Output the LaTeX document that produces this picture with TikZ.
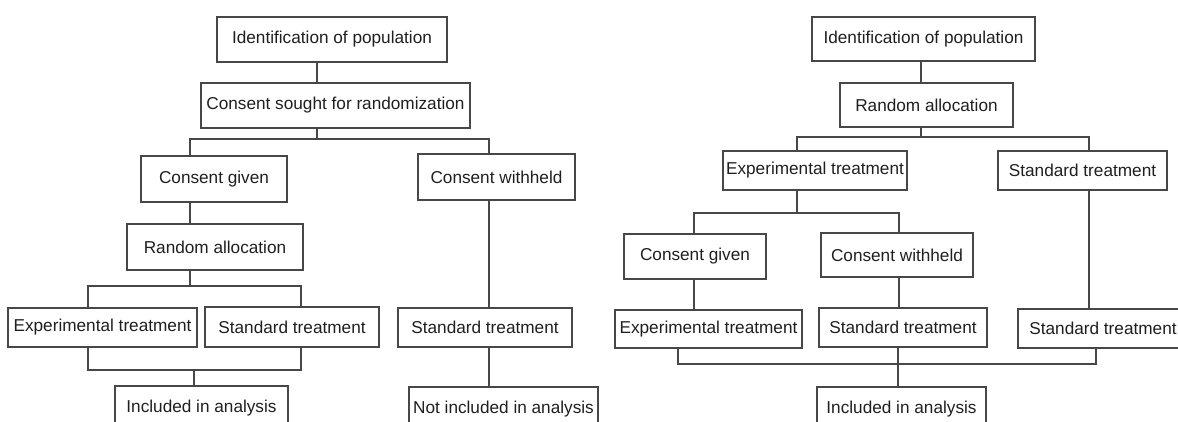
\documentclass[tikz,border=0pt]{standalone}
\usepackage{fontspec}
\setmainfont{Liberation Sans}
\begin{document}
\begin{tikzpicture}[x=1pt,y=-1pt,
  box/.style={draw=black!72, line width=1.1pt, text=black!88, inner sep=0pt,
    font=\fontsize{17.2}{20}\selectfont},
  conn/.style={draw=black!72, line width=1.1pt}]
\useasboundingbox (0,0) rectangle (1178,421);
\clip (0,0) rectangle (1178,421);
% ---------- left diagram ----------
\node[box, minimum width=230pt, minimum height=45pt] (L1) at (332,39.5) {Identification of population};
\node[box, minimum width=269pt, minimum height=45pt] (L2) at (335.5,105.5) {Consent sought for randomization};
\node[box, minimum width=146pt, minimum height=46pt] (L3) at (214,179) {Consent given};
\node[box, minimum width=157pt, minimum height=46pt] (L4) at (496.5,177) {Consent withheld};
\node[box, minimum width=176pt, minimum height=46pt] (L5) at (215,247) {Random allocation};
\node[box, minimum width=189pt, minimum height=39pt] (L6) at (102.5,327.5) {Experimental treatment};
\node[box, minimum width=174pt, minimum height=40pt] (L7) at (292,327) {Standard treatment};
\node[box, minimum width=174pt, minimum height=39pt] (L8) at (485,327.5) {Standard treatment};
\node[box, minimum width=173pt, minimum height=44pt] (L9) at (201.5,408) {Included in analysis};
\node[box, minimum width=189pt, minimum height=44pt] (L10) at (503.5,409) {Not included in analysis};
% ---------- right diagram ----------
\node[box, minimum width=223pt, minimum height=44pt] (R1) at (923.5,39) {Identification of population};
\node[box, minimum width=173pt, minimum height=44pt] (R2) at (926.5,105) {Random allocation};
\node[box, minimum width=184pt, minimum height=39pt] (R3) at (815,170.5) {Experimental treatment};
\node[box, minimum width=169pt, minimum height=39pt] (R4) at (1082.5,170.5) {Standard treatment};
\node[box, minimum width=142pt, minimum height=45pt] (R5) at (695,256.5) {Consent given};
\node[box, minimum width=152pt, minimum height=44pt] (R6) at (897,255) {Consent withheld};
\node[box, minimum width=187pt, minimum height=38pt] (R7) at (708.5,329) {Experimental treatment};
\node[box, minimum width=168pt, minimum height=39pt] (R8) at (903,327.5) {Standard treatment};
\node[box, minimum width=170pt, minimum height=39pt] (R9) at (1103,328.5) {Standard treatment};
\node[box, minimum width=169pt, minimum height=44pt] (R10) at (901.5,409) {Included in analysis};
% ---------- left connectors ----------
\coordinate (la) at (317,0);
\draw[conn] (L1.south -| la) -- (L2.north -| la);
\coordinate (lj1) at (317,139);
\coordinate (lb1a) at (190,139);
\coordinate (lb1b) at (489,139);
\draw[conn] (L2.south -| lj1) -- (lj1);
\draw[conn] (L3.north -| lb1a) -- (lb1a) -- (lb1b) -- (L4.north -| lb1b);
\draw[conn] (L3.south -| lb1a) -- (L5.north -| lb1a);
\coordinate (lj2) at (190,286);
\coordinate (lb2a) at (88,286);
\coordinate (lb2b) at (301,286);
\draw[conn] (L5.south -| lj2) -- (lj2);
\draw[conn] (L6.north -| lb2a) -- (lb2a) -- (lb2b) -- (L7.north -| lb2b);
\coordinate (lb3a) at (88,370);
\coordinate (lb3b) at (301,370);
\coordinate (lj3) at (194,370);
\draw[conn] (L6.south -| lb3a) -- (lb3a) -- (lb3b) -- (L7.south -| lb3b);
\draw[conn] (lj3) -- (L9.north -| lj3);
\draw[conn] (L4.south -| lb1b) -- (L8.north -| lb1b);
\draw[conn] (L8.south -| lb1b) -- (L10.north -| lb1b);
% ---------- right connectors ----------
\coordinate (ra) at (921,0);
\draw[conn] (R1.south -| ra) -- (R2.north -| ra);
\coordinate (rj1) at (921,137);
\coordinate (rb1a) at (797,137);
\coordinate (rb1b) at (1089,137);
\draw[conn] (R2.south -| rj1) -- (rj1);
\draw[conn] (R3.north -| rb1a) -- (rb1a) -- (rb1b) -- (R4.north -| rb1b);
\coordinate (rj2) at (797,213);
\coordinate (rb2a) at (694,213);
\coordinate (rb2b) at (899,213);
\draw[conn] (R3.south -| rj2) -- (rj2);
\draw[conn] (R5.north -| rb2a) -- (rb2a) -- (rb2b) -- (R6.north -| rb2b);
\draw[conn] (R5.south -| rb2a) -- (R7.north -| rb2a);
\draw[conn] (R6.south -| rb2b) -- (R8.north -| rb2b);
\draw[conn] (R4.south -| rb1b) -- (R9.north -| rb1b);
\coordinate (rb3a) at (678,364);
\coordinate (rb3b) at (1096,364);
\coordinate (rj3) at (898,364);
\draw[conn] (R7.south -| rb3a) -- (rb3a) -- (rb3b) -- (R9.south -| rb3b);
\draw[conn] (R8.south -| rj3) -- (R10.north -| rj3);
\end{tikzpicture}
\end{document}
